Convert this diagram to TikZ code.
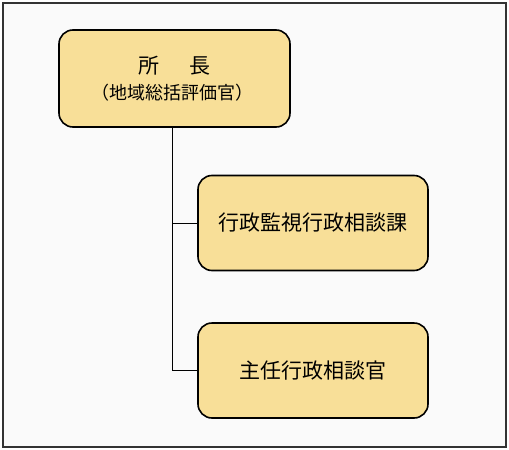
\documentclass[tikz,border=0pt]{standalone}
\usepackage{fontspec}
\newfontfamily\cjk{Noto Sans CJK JP}
\definecolor{boxfill}{HTML}{F8DF98}
\definecolor{bg}{HTML}{FAFAFA}
\definecolor{frame}{HTML}{333333}
\begin{document}
\begin{tikzpicture}[x=1pt,y=-1pt,
  orgbox/.style={draw=black, line width=1.6pt, fill=boxfill, rounded corners=14pt, inner sep=0pt},
  conn/.style={draw=black, line width=1pt}]
\useasboundingbox (0,0) rectangle (509,450);
\draw[frame, line width=1.6pt, fill=bg] (3,3) rectangle (506,447);
\node[orgbox, minimum width=231pt, minimum height=97pt] (head) at (174.5,78.5) {};
\node[font=\cjk\fontsize{21}{23}\selectfont] (headt1) at (174.5,65.5) {所\hspace{1.4em}長};
\node[font=\cjk\fontsize{18}{20}\selectfont] (headt2) at (172.5,93) {（地域総括評価官）};
\node[orgbox, minimum width=230pt, minimum height=95pt, font=\cjk\fontsize{21}{24}\selectfont] (b1) at (313,223) {行政監視行政相談課};
\node[orgbox, minimum width=230pt, minimum height=95pt, font=\cjk\fontsize{21}{24}\selectfont] (b2) at (313,370.5) {主任行政相談官};
\coordinate (top) at (172,127);
\coordinate (j1) at (172,223);
\coordinate (j2) at (172,370.5);
\draw[conn] (head.south -| top) -- (j2) -- (b2.west);
\draw[conn] (j1) -- (b1.west);
\end{tikzpicture}
\end{document}
